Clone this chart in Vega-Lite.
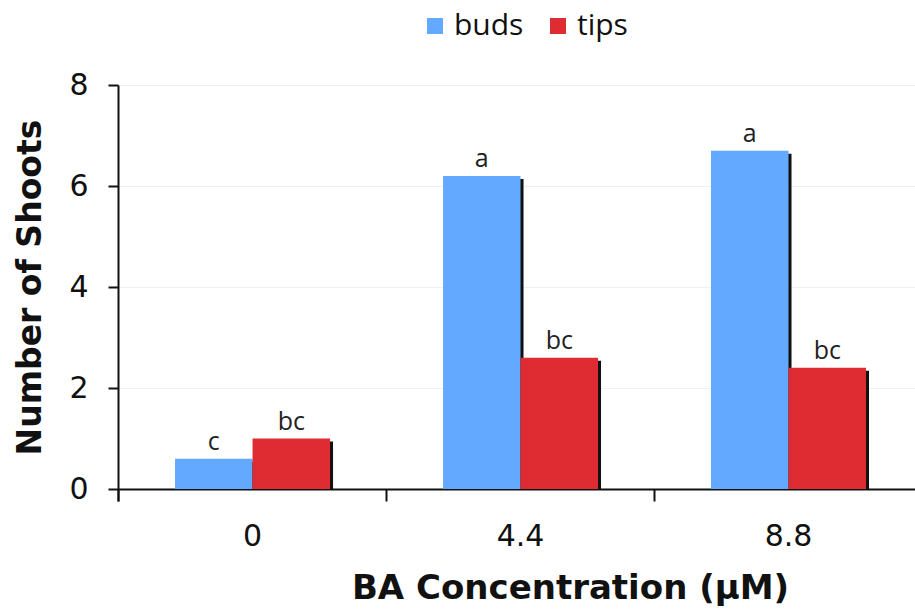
{
  "$schema": "https://vega.github.io/schema/vega-lite/v6.json",
  "width": 797,
  "height": 404,
  "autosize": {"type": "none"},
  "padding": {"left": 118, "top": 85, "right": 0, "bottom": 121},
  "background": "white",
  "config": {"view": {"stroke": null}, "font": "DejaVu Sans"},
  "data": {
    "values": [
      {"conc": "0", "type": "buds", "value": 0.6, "lab": "c"},
      {"conc": "0", "type": "tips", "value": 1.0, "lab": "bc"},
      {"conc": "4.4", "type": "buds", "value": 6.2, "lab": "a"},
      {"conc": "4.4", "type": "tips", "value": 2.6, "lab": "bc"},
      {"conc": "8.8", "type": "buds", "value": 6.7, "lab": "a"},
      {"conc": "8.8", "type": "tips", "value": 2.4, "lab": "bc"}
    ]
  },
  "encoding": {
    "x": {
      "field": "conc", "type": "nominal", "sort": ["0", "4.4", "8.8"],
      "scale": {"paddingInner": 0.4216, "paddingOuter": 0.1978, "align": 0.538},
      "axis": {
        "title": "BA Concentration (µM)", "labelAngle": 0, "grid": false,
        "bandPosition": 0, "tickOffset": -57, "labelOffset": 56.5, "tickExtra": true,
        "domainColor": "#111", "domainWidth": 2, "tickColor": "#111", "tickWidth": 2, "tickSize": 12,
        "labelFont": "DejaVu Sans", "labelFontSize": 30, "labelColor": "#111", "labelPadding": 20,
        "titleFont": "DejaVu Sans", "titleFontSize": 34, "titleFontWeight": "bold", "titleColor": "#111",
        "titleX": 452, "titleY": 99, "titleBaseline": "middle", "titleAlign": "center"
      }
    },
    "y": {
      "field": "value", "type": "quantitative", "scale": {"domain": [0, 8]},
      "axis": {
        "values": [0, 2, 4, 6, 8], "title": "Number of Shoots", "grid": true, "gridColor": "#f0f0f0",
        "domainColor": "#111", "domainWidth": 2, "tickColor": "#111", "tickWidth": 2, "tickSize": 10,
        "labelFont": "DejaVu Sans", "labelFontSize": 30, "labelColor": "#111", "labelPadding": 20,
        "titleFont": "DejaVu Sans", "titleFontSize": 33, "titleFontWeight": "bold", "titleColor": "#111",
        "titleX": -88, "titleY": 202, "titleBaseline": "middle", "titleAlign": "center", "titleAngle": -90
      }
    }
  },
  "layer": [
    {
      "mark": {"type": "bar", "color": "#111", "yOffset": 3, "clip": true},
      "encoding": {
        "xOffset": {"field": "type", "type": "nominal", "sort": ["buds", "tips"], "scale": {"range": [3, 158], "paddingInner": 0, "paddingOuter": 0}}
      }
    },
    {
      "mark": {"type": "bar"},
      "encoding": {
        "xOffset": {"field": "type", "type": "nominal", "sort": ["buds", "tips"], "scale": {"paddingInner": 0, "paddingOuter": 0}},
        "color": {
          "field": "type", "type": "nominal",
          "scale": {"domain": ["buds", "tips"], "range": ["#63a9ff", "#de2c32"]},
          "legend": {
            "orient": "none", "legendX": 302, "legendY": -74, "direction": "horizontal", "title": null,
            "symbolType": "square", "symbolSize": 256, "symbolStrokeWidth": 0, "symbolOpacity": 1,
            "labelFont": "Open Sans", "labelFontSize": 30, "labelColor": "#111", "labelOffset": 4,
            "columnPadding": 19, "padding": 0
          }
        }
      }
    },
    {
      "mark": {"type": "text", "dy": -9, "baseline": "alphabetic", "font": "Open Sans", "fontSize": 25, "color": "#222"},
      "encoding": {
        "xOffset": {"field": "type", "type": "nominal", "sort": ["buds", "tips"], "scale": {"type": "band", "paddingInner": 0, "paddingOuter": 0}},
        "text": {"field": "lab"}
      }
    }
  ],
  "resolve": {"scale": {"xOffset": "independent"}}
}
